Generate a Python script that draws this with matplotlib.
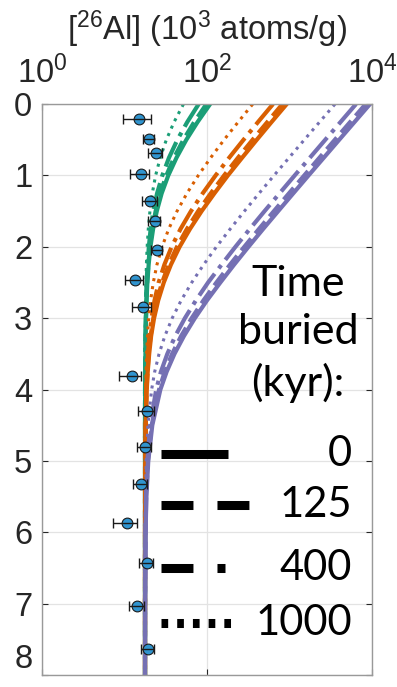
import matplotlib
matplotlib.use('Agg')
from matplotlib import pyplot as plt

plt.rcParams['font.family'] = ['Liberation Sans', 'DejaVu Sans']
plt.rcParams['mathtext.default'] = 'regular'

# measured samples (depth in m, [26Al] in 10^3 atoms/g)
depth_obs = [0.21, 0.49, 0.68, 0.985, 1.36, 1.64, 2.05, 2.46, 2.84, 3.81,
             4.30, 4.80, 5.33, 5.87, 6.43, 7.03, 7.64]
al_obs = [15.1, 19.8, 23.9, 15.8, 20.4, 23.2, 24.6, 13.5, 16.6, 12.2,
          18.6, 17.7, 15.8, 10.8, 18.6, 14.2, 19.4]
al_err = [5.6, 2.9, 4.9, 4.0, 4.0, 4.0, 3.8, 3.3, 4.2, 3.6,
          4.0, 3.5, 3.0, 3.5, 3.7, 2.8, 3.6]

# model profiles
depth = [0, 0.25, 0.5, 0.75, 1, 1.25, 1.5, 1.75, 2, 2.25, 2.5, 2.75, 3,
         3.25, 3.5, 3.75, 4, 4.5, 5, 5.5, 6, 7, 8]
green_0 = [109, 76.9, 56.1, 42.7, 33.9, 28.2, 24.6, 22.2, 20.6, 19.6, 18.9, 18.5,
           18.2, 18.0, 17.9, 17.8, 17.8, 17.7, 17.7, 17.7, 17.7, 17.7, 17.7]
green_125 = [98.2, 70.0, 51.7, 39.8, 32.1, 27.0, 23.8, 21.6, 20.3, 19.4, 18.8, 18.4,
             18.2, 18.0, 17.9, 17.8, 17.7, 17.7, 17.7, 17.7, 17.7, 17.7, 17.7]
green_400 = [79.2, 57.7, 43.7, 34.6, 28.7, 24.8, 22.3, 20.7, 19.7, 19.0, 18.5, 18.2,
             18.1, 17.9, 17.8, 17.8, 17.7, 17.7, 17.7, 17.7, 17.7, 17.7, 17.7]
green_1000 = [51.8, 39.9, 32.1, 27.1, 23.8, 21.7, 20.3, 19.4, 18.8, 18.4, 18.2, 18.0,
              17.9, 17.8, 17.8, 17.7, 17.7, 17.7, 17.7, 17.7, 17.7, 17.7, 17.7]
orange_0 = [925, 607, 401, 267, 179, 123, 86.0, 62.1, 46.5, 36.5, 29.9, 25.6,
            22.8, 21.0, 19.9, 19.1, 18.6, 18.1, 17.9, 17.8, 17.7, 17.7, 17.7]
orange_125 = [820, 540, 357, 238, 161, 111, 78.1, 57.0, 43.2, 34.3, 28.5, 24.7,
              22.3, 20.7, 19.6, 19.0, 18.5, 18.0, 17.8, 17.8, 17.7, 17.7, 17.7]
orange_400 = [631, 416, 277, 186, 127, 88.7, 63.9, 47.7, 37.2, 30.4, 25.9, 23.1,
              21.2, 20.0, 19.2, 18.7, 18.3, 18.0, 17.8, 17.7, 17.7, 17.7, 17.7]
orange_1000 = [358, 239, 161, 111, 78.3, 57.1, 43.3, 34.3, 28.5, 24.7, 22.3, 20.7,
               19.6, 19.0, 18.5, 18.2, 18.0, 17.9, 17.8, 17.7, 17.7, 17.7, 17.7]
purple_0 = [9460, 6155, 4005, 2610, 1701, 1112, 729, 479, 318, 213, 145, 100,
            71.2, 52.5, 40.3, 32.4, 27.2, 21.7, 19.4, 18.4, 18.0, 17.8, 17.7]
purple_125 = [8370, 5450, 3547, 2312, 1508, 986, 647, 426, 283, 190, 130, 90.6,
              65.1, 48.5, 37.7, 30.7, 26.2, 21.3, 19.2, 18.3, 18.0, 17.7, 17.7]
purple_400 = [6400, 4167, 2713, 1770, 1156, 758, 498, 330, 221, 150, 103, 73.4,
              53.9, 41.2, 33.0, 27.6, 24.2, 20.4, 18.9, 18.2, 17.9, 17.7, 17.7]
purple_1000 = [3560, 2320, 1513, 990, 649, 428, 284, 191, 130, 90.9, 65.3, 48.6,
               37.8, 30.8, 26.2, 23.2, 21.3, 19.2, 18.3, 18.0, 17.8, 17.7, 17.7]

burial_labels = ['0', '125', '400', '1000']
curve_styles = ['-', '--', '-.', ':']
groups = [('#1b9e77', [green_0, green_125, green_400, green_1000]),
          ('#d95f02', [orange_0, orange_125, orange_400, orange_1000]),
          ('#7570b3', [purple_0, purple_125, purple_400, purple_1000])]

fig = plt.figure(figsize=(3.97, 6.87), dpi=100)
ax = fig.add_axes([0.106, 0.0175, 0.831, 0.831])

for color, curves in groups:
    for vals, ls in zip(curves, curve_styles):
        ax.plot(vals, depth, color=color, ls=ls,
                lw=2.2 if ls == ':' else 3, zorder=2)

ax.scatter(al_obs, depth_obs, s=60, c='#3094cf', edgecolors='#1a1a1a',
           linewidths=0.8, zorder=3)
ax.errorbar(al_obs, depth_obs, xerr=al_err, fmt='none', ecolor='#1a1a1a',
            elinewidth=1, capsize=3.5, capthick=1, zorder=4)

ax.set_xscale('log')
ax.set_xlim(1, 1e4)
ax.set_ylim(8, 0)
ax.set_xticks([1, 100, 10000])
ax.minorticks_off()
ax.set_yticks(range(9))
ax.xaxis.tick_top()
ax.xaxis.set_label_position('top')
ax.set_xlabel('[$^{26}$Al] (10$^3$ atoms/g)', fontsize=23.5, color='#262626', labelpad=11)
ax.tick_params(direction='in', length=4, width=0.8, top=True, bottom=True,
               left=True, right=True, labelsize=23.5, colors='#262626',
               labeltop=True, labelbottom=False)
ax.tick_params(axis='x', pad=10)
ax.tick_params(axis='y', pad=7)
ax.get_yticklabels()[-1].set_va('bottom')
ax.grid(True, color='#e3e3e3', lw=0.9)
ax.set_axisbelow(True)
for sp in ax.spines.values():
    sp.set_color('#999999')
    sp.set_linewidth(1)

# legend drawn by hand
ax.text(0.776, 0.598, 'Time\nburied\n(kyr):', transform=ax.transAxes,
        ha='center', va='center', fontsize=31, family='Lato',
        linespacing=1.34, multialignment='center', zorder=5)
leg_y = [0.387, 0.298, 0.187, 0.091]
leg_dash = ['-', (0, (3.54, 2.66)), (0, (3.54, 2.66, 0.89, 2.66)), (0, (0.74, 1.0))]
leg_x1 = [0.564, 0.63, 0.555, 0.575]
for y, dsh, x1, lab in zip(leg_y, leg_dash, leg_x1, burial_labels):
    ax.plot([0.36, x1], [y, y], transform=ax.transAxes, color='k', lw=6.5,
            ls=dsh, solid_capstyle='butt', dash_capstyle='butt', zorder=5)
    ax.text(0.94, y, lab, transform=ax.transAxes, ha='right', va='center',
            fontsize=30, family='Lato', zorder=5)

fig.savefig('out.png', dpi=100)
